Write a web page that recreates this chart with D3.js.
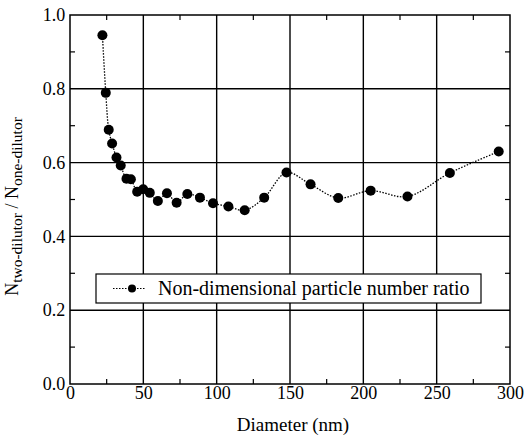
<!DOCTYPE html>
<html>
<head>
<meta charset="utf-8">
<script src="https://cdn.jsdelivr.net/npm/d3@7"></script>
<style>
  body { margin: 0; background: #fff; }
</style>
</head>
<body>
<div id="chart-area"></div>
<script>
// data
let diameter = [22.1, 24.4, 26.4, 28.7, 31.7, 34.6, 38.5, 41.5, 45.8, 49.9, 54.4, 59.9, 66.1, 72.7,
    80.0, 88.6, 97.5, 108.0, 119.1, 132.4, 147.6, 164.0, 182.9, 205.0, 230.1, 259.0, 292.3];
let ratio = [0.945, 0.789, 0.689, 0.652, 0.614, 0.592, 0.556, 0.555, 0.521, 0.528, 0.518, 0.496, 0.517, 0.491,
    0.515, 0.505, 0.490, 0.481, 0.471, 0.505, 0.573, 0.541, 0.504, 0.524, 0.508, 0.572, 0.630];
let xTicks = [0, 50, 100, 150, 200, 250, 300];
let yTicks = [0.0, 0.2, 0.4, 0.6, 0.8, 1.0];
let xMinor = [25, 75, 125, 175, 225, 275];
let yMinor = [0.1, 0.3, 0.5, 0.7, 0.9];
let legendLabel = "Non-dimensional particle number ratio";

let serif = "Liberation Serif";
// small serif text is drawn larger and scaled down (keeps the serif face at 16-18px)
let k = 0.8;

let margin = {left: 70, right: 16, top: 15, bottom: 60};
let width = 526 - margin.left - margin.right,
    height = 444 - margin.top - margin.bottom;

let svg = d3.select("#chart-area")
    .append("svg")
    .attr("width", 526)
    .attr("height", 444)
    .attr("font-family", serif);

let g = svg.append("g")
    .attr("transform", "translate(" + margin.left + ", " + margin.top + ")");

// Scales
let x = d3.scaleLinear().domain([0, 300]).range([0, width]);
let y = d3.scaleLinear().domain([0, 1]).range([height, 0]);

// grid lines
g.selectAll(".gx").data(xTicks.slice(1, -1)).enter().append("line")
    .attr("x1", d => x(d)).attr("x2", d => x(d))
    .attr("y1", 0).attr("y2", height)
    .attr("stroke", "#000").attr("stroke-width", 1.4);
g.selectAll(".gy").data(yTicks.slice(1, -1)).enter().append("line")
    .attr("y1", d => y(d)).attr("y2", d => y(d))
    .attr("x1", 0).attr("x2", width)
    .attr("stroke", "#000").attr("stroke-width", 1.4);

// minor ticks, inward on all four sides
let tickLen = 5;
xMinor.forEach(v => {
    g.append("line").attr("x1", x(v)).attr("x2", x(v)).attr("y1", height).attr("y2", height - tickLen)
        .attr("stroke", "#000").attr("stroke-width", 1.2);
    g.append("line").attr("x1", x(v)).attr("x2", x(v)).attr("y1", 0).attr("y2", tickLen)
        .attr("stroke", "#000").attr("stroke-width", 1.2);
});
yMinor.forEach(v => {
    g.append("line").attr("y1", y(v)).attr("y2", y(v)).attr("x1", 0).attr("x2", tickLen)
        .attr("stroke", "#000").attr("stroke-width", 1.2);
    g.append("line").attr("y1", y(v)).attr("y2", y(v)).attr("x1", width).attr("x2", width - tickLen)
        .attr("stroke", "#000").attr("stroke-width", 1.2);
});

// frame
g.append("rect")
    .attr("width", width).attr("height", height)
    .attr("fill", "none").attr("stroke", "#000").attr("stroke-width", 1.5);

// X Axis labels
let xAxisCall = d3.axisBottom(x).tickValues(xTicks).tickSize(0).tickPadding(3).tickFormat(d3.format("d"));
let xAxis = g.append("g")
    .attr("transform", "translate(0," + height + ")")
    .call(xAxisCall);
xAxis.select(".domain").remove();
xAxis.attr("font-family", serif).attr("font-size", 18 / k);
xAxis.selectAll("text").attr("fill", "#000").attr("transform", "scale(" + k + ")");

// Y Axis labels
let yAxisCall = d3.axisLeft(y).tickValues(yTicks).tickSize(0).tickPadding(6).tickFormat(d3.format(".1f"));
let yAxis = g.append("g").call(yAxisCall);
yAxis.select(".domain").remove();
yAxis.attr("font-family", serif).attr("font-size", 18 / k);
yAxis.selectAll("text").attr("fill", "#000").attr("transform", "scale(" + k + ")");

// axis titles
svg.append("text")
    .attr("x", 293)
    .attr("y", 431)
    .attr("font-family", serif)
    .attr("font-size", 19)
    .attr("text-anchor", "middle")
    .text("Diameter (nm)");

let yLabel = svg.append("text")
    .attr("transform", "translate(18,206.5) rotate(-90) scale(" + k + ")")
    .attr("font-family", serif)
    .attr("font-size", 18 / k)
    .attr("text-anchor", "middle");
yLabel.append("tspan").text("N");
yLabel.append("tspan").attr("font-size", 15.5 / k).attr("dy", 5).text("two-dilutor");
yLabel.append("tspan").attr("dy", -5).text(" / N");
yLabel.append("tspan").attr("font-size", 15.5 / k).attr("dy", 5).text("one-dilutor");

// data line
let points = diameter.map((d, i) => [d, ratio[i]]);
let line = d3.line()
    .x(d => x(d[0]))
    .y(d => y(d[1]))
    .curve(d3.curveCatmullRom.alpha(0.5));
g.append("path")
    .datum(points)
    .attr("d", line)
    .attr("fill", "none")
    .attr("stroke", "#000")
    .attr("stroke-width", 1.3)
    .attr("stroke-dasharray", "1.5,1.5");

g.selectAll("circle.pt").data(points).enter().append("circle")
    .attr("class", "pt")
    .attr("cx", d => x(d[0]))
    .attr("cy", d => y(d[1]))
    .attr("r", 5)
    .attr("fill", "#000");

// LEGEND
let legend = svg.append("g").attr("transform", "translate(96,274)");
legend.append("rect")
    .attr("width", 385).attr("height", 29)
    .attr("fill", "#fff").attr("stroke", "#000").attr("stroke-width", 1.2);
legend.append("line")
    .attr("x1", 17).attr("x2", 49).attr("y1", 14.5).attr("y2", 14.5)
    .attr("stroke", "#000").attr("stroke-width", 1.2).attr("stroke-dasharray", "1.5,1.5");
legend.append("circle").attr("cx", 36).attr("cy", 14.5).attr("r", 4).attr("fill", "#000");
legend.append("text")
    .attr("x", 62).attr("y", 21)
    .attr("font-family", serif)
    .attr("font-size", 20)
    .text(legendLabel);
</script>
</body>
</html>
